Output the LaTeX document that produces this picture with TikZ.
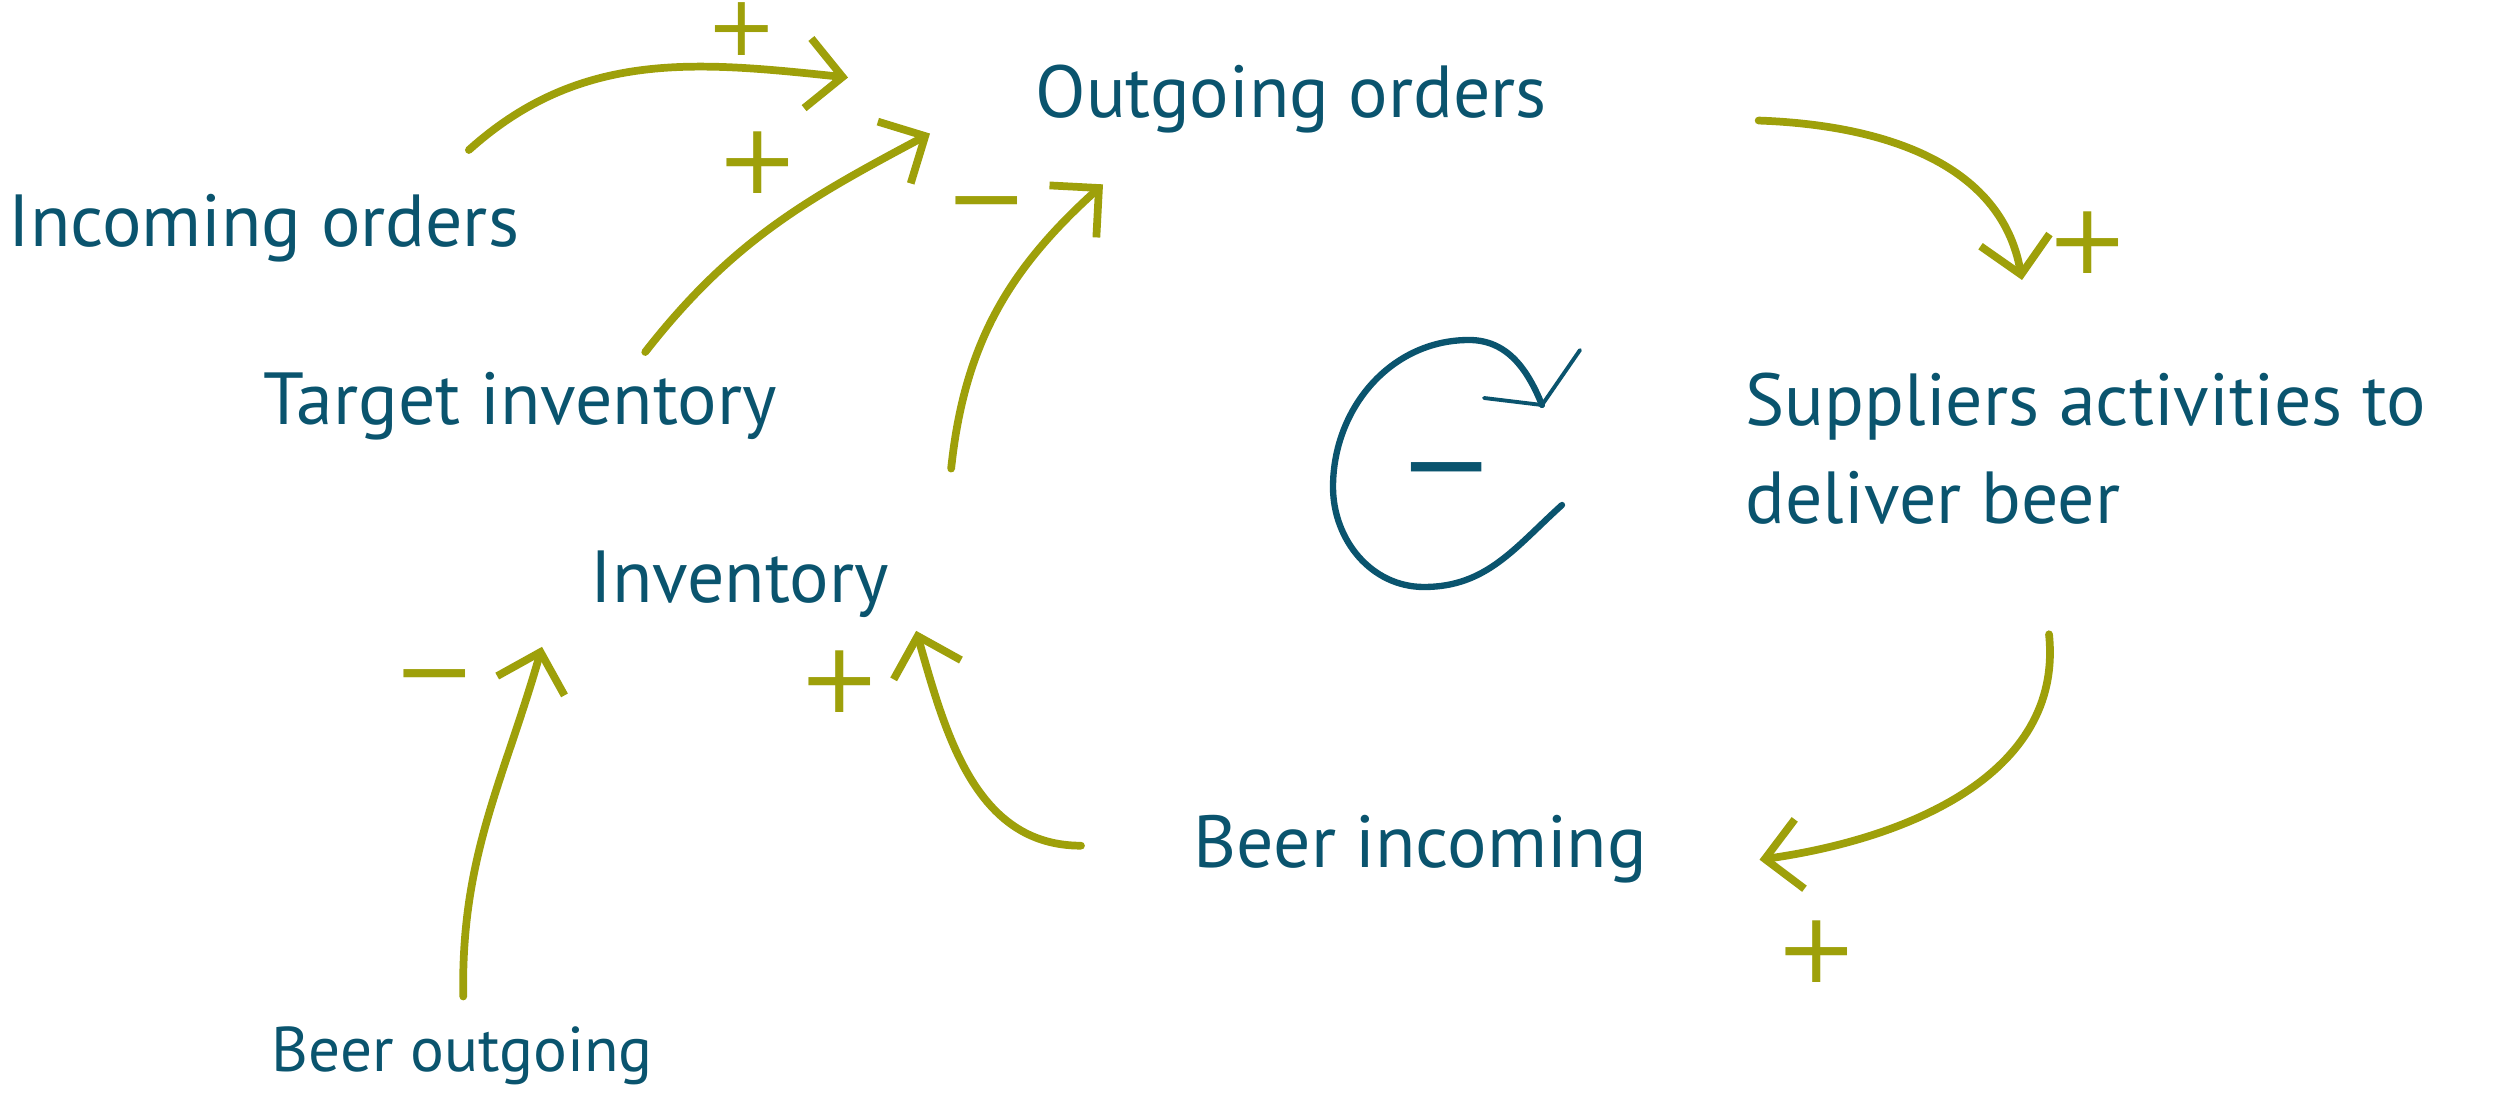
\documentclass[tikz,border=0pt]{standalone}
\usepackage{fontspec}
\setmainfont{PT Sans}
\newfontfamily\signfont{DejaVu Sans}
\usepackage{xcolor}
\usepackage{tikz}
\usetikzlibrary{arrows.meta}
\definecolor{cldteal}{RGB}{10,84,110}
\definecolor{cldolive}{RGB}{158,160,10}
\tikzset{
  var/.style   = {inner sep=0pt, text=cldteal, font=\fontsize{21}{28}\selectfont, anchor=base west, align=left},
  link/.style  = {-{Straight Barb[length=3.5mm,width=7mm]}, line width=2.2pt, draw=cldolive, line cap=round},
  sgn/.style   = {inner sep=0pt, text=cldolive, font=\signfont\fontsize{28}{28}\selectfont},
  loopl/.style = {line width=1.8pt, draw=cldteal, line cap=round},
}

\begin{document}
\begin{tikzpicture}
  \useasboundingbox (0,0) rectangle (25,11.11);
  % variables
  \node[var] (og)  at (10.35,9.93) {Outgoing orders};
  \node[var] (io)  at (0.08,8.64)  {Incoming orders};
  \node[var] (ti)  at (2.63,6.86)  {Target inventory};
  \node[var] (inv) at (5.90,5.08)  {Inventory};
  \node[var, anchor=north west] (sup) at (17.45,7.39) {Suppliers activities to\\deliver beer};
  \node[var] (bi)  at (11.93,2.44) {Beer incoming};
  \node[var, font=\fontsize{18}{22}\selectfont] (bo) at (2.71,0.40) {Beer outgoing};

  % causal links
  \draw[link] ([shift={(-0.51,0.44)}]io.north east) to[out=42,in=174] ([shift={(-1.87,0.22)}]og.west);
  \draw[link] ([shift={(-1.32,0.20)}]ti.north east) to[out=52,in=208] ([shift={(-1.05,-0.34)}]og.west);
  \draw[link] ([shift={(0.62,0.82)}]inv.north east) to[out=84,in=222] ([shift={(0.68,-0.50)}]og.south west);
  \draw[link] ([shift={(2.11,-0.21)}]og.east) to[out=-2,in=100] ([shift={(2.77,0.92)}]sup.north west);
  \draw[link] ([shift={(3.04,-1.09)}]sup.south west) to[out=-84,in=8] ([shift={(1.12,-0.11)}]bi.east);
  \draw[link] ([shift={(-1.12,0.03)}]bi.west) to[out=180,in=-74] ([shift={(0.27,-0.12)}]inv.south east);
  \draw[link] ([shift={(0.01,0.29)}]bo.north) to[out=91,in=-106] ([shift={(-0.48,-0.28)}]inv.south west);

  % polarities
  \node[sgn, font=\signfont\fontsize{24}{24}\selectfont] (p1) at (7.42,10.82) {+};
  \node[sgn] (p2) at (7.58,9.48)  {+};
  \node[sgn] (p3) at (9.87,8.97)  {−};
  \node[sgn] (p4) at (20.88,8.68) {+};
  \node[sgn] (p5) at (18.17,1.59) {+};
  \node[sgn] (p6) at (8.40,4.29)  {+};
  \node[sgn] (p7) at (4.35,4.24)  {−};

  % balancing loop
  \draw[loopl] (15.62,6.06) to[out=222,in=0] (14.24,5.24) to[out=180,in=-90] (13.33,6.24)
    to[out=90,in=180] (14.69,7.71) to[out=0,in=112] (15.42,7.06);
  \draw[loopl, line width=1.1pt] (15.80,7.61) -- (15.42,7.06) -- (14.84,7.13);
  \node[sgn, text=cldteal, font=\signfont\fontsize{32}{32}\selectfont] (lp) at (14.47,6.28) {−};
\end{tikzpicture}
\end{document}
